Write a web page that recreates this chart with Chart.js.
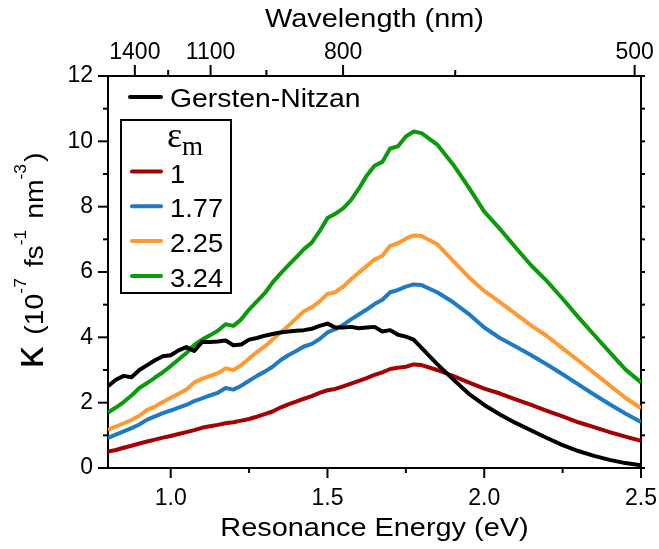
<!DOCTYPE html>
<html>
<head>
<meta charset="utf-8">
<script src="https://cdn.jsdelivr.net/npm/chart.js@4.4.1/dist/chart.umd.min.js"></script>
<style>
  html, body { margin: 0; padding: 0; background: #fff; }
  #wrap { width: 659px; height: 549px; }
</style>
</head>
<body>
<div id="wrap"><canvas id="kappa-chart" width="659" height="549"></canvas></div>
<script>
const HC = 1239.84; // eV * nm, for the wavelength axis

const energies = [0.80, 0.825, 0.85, 0.875, 0.90, 0.925, 0.95, 0.975, 1.00, 1.025,
  1.05, 1.075, 1.10, 1.125, 1.15, 1.175, 1.20, 1.225, 1.25, 1.275,
  1.30, 1.325, 1.35, 1.375, 1.40, 1.425, 1.45, 1.475, 1.50, 1.525,
  1.55, 1.575, 1.60, 1.625, 1.65, 1.675, 1.70, 1.725, 1.75, 1.775,
  1.80, 1.85, 1.90, 1.95, 2.00, 2.05, 2.10, 2.15, 2.20, 2.25,
  2.30, 2.35, 2.40, 2.45, 2.50];

const gerstenNitzan = [2.50, 2.70, 2.82, 2.78, 3.00, 3.15, 3.30, 3.42, 3.45, 3.60,
  3.70, 3.58, 3.86, 3.86, 3.87, 3.90, 3.76, 3.78, 3.93, 3.98,
  4.05, 4.10, 4.15, 4.18, 4.20, 4.22, 4.26, 4.35, 4.42, 4.30,
  4.30, 4.32, 4.28, 4.30, 4.32, 4.18, 4.22, 4.08, 4.02, 3.93,
  3.68, 3.18, 2.72, 2.28, 1.93, 1.64, 1.38, 1.15, 0.92, 0.70,
  0.52, 0.37, 0.25, 0.15, 0.08];

const eps100 = [0.50, 0.55, 0.62, 0.68, 0.75, 0.81, 0.87, 0.93, 0.98, 1.04,
  1.10, 1.16, 1.23, 1.28, 1.32, 1.37, 1.40, 1.45, 1.50, 1.57,
  1.65, 1.73, 1.85, 1.95, 2.03, 2.12, 2.20, 2.30, 2.38, 2.42,
  2.50, 2.58, 2.67, 2.75, 2.85, 2.93, 3.03, 3.07, 3.10, 3.17,
  3.15, 3.00, 2.82, 2.62, 2.43, 2.28, 2.10, 1.93, 1.75, 1.58,
  1.40, 1.25, 1.10, 0.96, 0.83];

const eps177 = [0.92, 1.02, 1.12, 1.22, 1.33, 1.48, 1.58, 1.68, 1.76, 1.85,
  1.93, 2.05, 2.13, 2.22, 2.30, 2.45, 2.40, 2.52, 2.67, 2.82,
  2.95, 3.10, 3.30, 3.45, 3.58, 3.72, 3.80, 3.95, 4.15, 4.25,
  4.38, 4.55, 4.70, 4.85, 5.02, 5.15, 5.38, 5.45, 5.55, 5.62,
  5.60, 5.38, 5.08, 4.72, 4.30, 3.98, 3.72, 3.45, 3.17, 2.87,
  2.56, 2.25, 1.95, 1.67, 1.41];

const eps225 = [1.17, 1.27, 1.37, 1.47, 1.60, 1.78, 1.88, 2.02, 2.15, 2.27,
  2.40, 2.62, 2.73, 2.82, 2.90, 3.05, 3.00, 3.15, 3.35, 3.55,
  3.72, 3.93, 4.15, 4.35, 4.58, 4.80, 4.92, 5.10, 5.33, 5.38,
  5.55, 5.78, 5.98, 6.18, 6.38, 6.50, 6.80, 6.88, 7.02, 7.12,
  7.10, 6.85, 6.35, 5.85, 5.42, 5.08, 4.72, 4.36, 4.04, 3.66,
  3.29, 2.91, 2.53, 2.15, 1.83];

const eps324 = [1.70, 1.85, 2.02, 2.22, 2.45, 2.60, 2.77, 2.93, 3.12, 3.32,
  3.52, 3.77, 3.93, 4.06, 4.20, 4.40, 4.35, 4.55, 4.85, 5.10,
  5.35, 5.68, 5.95, 6.20, 6.45, 6.70, 6.90, 7.25, 7.65, 7.78,
  7.95, 8.20, 8.55, 8.95, 9.25, 9.37, 9.78, 9.85, 10.15, 10.30,
  10.25, 9.90, 9.30, 8.60, 7.85, 7.32, 6.75, 6.20, 5.72, 5.18,
  4.62, 4.08, 3.55, 3.02, 2.62];

const mediumLabels = ['1', '1.77', '2.25', '3.24'];
const mediumColors = ['#a30000', '#1e7bc3', '#ff9a33', '#0a9a0a'];

const energyTicks = [1.0, 1.5, 2.0, 2.5];
const energyMinor = [1.25, 1.75, 2.25];
const wavelengthTicks = [1400, 1100, 800, 500];
const wavelengthMinor = [1250, 950, 650];
const kappaTicks = [0, 2, 4, 6, 8, 10, 12];
const kappaMinor = [1, 3, 5, 7, 9, 11];

const SANS = '"Liberation Sans", Arial, sans-serif';
const SERIF = '"Liberation Serif", "Times New Roman", serif';
const SX = 1.09; // the lettering is a little wide

const pts = ys => energies.map((e, i) => ({ x: e, y: ys[i] }));

function textW(ctx, str, font, sx = SX) {
  ctx.font = font;
  return ctx.measureText(str).width * sx;
}

function drawText(ctx, str, x, y, font, align = 'left', sx = SX) {
  ctx.save();
  ctx.font = font;
  ctx.textAlign = align;
  ctx.textBaseline = 'alphabetic';
  ctx.fillStyle = '#000';
  ctx.translate(x, y);
  ctx.scale(sx, 1);
  ctx.fillText(str, 0, 0);
  ctx.restore();
}

// fixed axis sizes so the plot box lands where it should
const fixSize = (w, h) => s => {
  if (w != null) s.width = w;
  if (h != null) s.height = h;
  s.paddingLeft = s.paddingRight = s.paddingTop = s.paddingBottom = 0;
};

// tick marks, axis titles and the two-part legend
const decorations = {
  id: 'decorations',
  afterDraw(chart) {
    const { ctx, chartArea: a, scales } = chart;
    ctx.save();
    ctx.strokeStyle = '#000';
    ctx.lineWidth = 2;
    const seg = (x1, y1, x2, y2) => {
      ctx.beginPath(); ctx.moveTo(x1, y1); ctx.lineTo(x2, y2); ctx.stroke();
    };

    energyTicks.forEach(e => { const x = scales.x.getPixelForValue(e); seg(x, a.bottom, x, a.bottom + 10); });
    energyMinor.forEach(e => { const x = scales.x.getPixelForValue(e); seg(x, a.bottom, x, a.bottom + 5); });
    wavelengthTicks.forEach(w => { const x = scales.x2.getPixelForValue(HC / w); seg(x, a.top, x, a.top - 11); });
    wavelengthMinor.forEach(w => { const x = scales.x2.getPixelForValue(HC / w); seg(x, a.top, x, a.top - 6); });
    kappaTicks.forEach(k => { const y = scales.y.getPixelForValue(k); seg(a.left, y, a.left - 10, y); });
    kappaMinor.forEach(k => { const y = scales.y.getPixelForValue(k); seg(a.left, y, a.left - 5, y); });
    kappaTicks.concat(kappaMinor).forEach(k => { const y = scales.y2.getPixelForValue(k); seg(a.right, y, a.right + 4, y); });

    // axis titles
    const cx = (a.left + a.right) / 2;
    drawText(ctx, 'Wavelength (nm)', cx, 27, `26.5px ${SANS}`, 'center');
    drawText(ctx, 'Resonance Energy (eV)', cx, 536, `26.5px ${SANS}`, 'center');

    // rotated y title with superscripts
    const parts = [
      { t: 'κ', f: `40px ${SANS}`, dy: 0, gap: 12 },
      { t: '(10', f: `26px ${SANS}`, dy: 0 },
      { t: '-7', f: `16px ${SANS}`, dy: -17, gap: 3 },
      { t: ' fs', f: `26px ${SANS}`, dy: 0 },
      { t: '-1', f: `16px ${SANS}`, dy: -17, gap: 3 },
      { t: ' nm', f: `26px ${SANS}`, dy: 0 },
      { t: '-3', f: `16px ${SANS}`, dy: -17, gap: 2 },
      { t: ')', f: `26px ${SANS}`, dy: 0 },
    ];
    const total = parts.reduce((s, p) => s + textW(ctx, p.t, p.f) + (p.gap || 0), 0);
    ctx.save();
    ctx.translate(43, 260.5);
    ctx.rotate(-Math.PI / 2);
    let u = -total / 2;
    parts.forEach(p => {
      drawText(ctx, p.t, u, p.dy, p.f);
      u += textW(ctx, p.t, p.f) + (p.gap || 0);
    });
    ctx.restore();

    // legend
    const ds = chart.data.datasets;
    ctx.lineCap = 'round';
    ctx.lineWidth = 4;
    ctx.strokeStyle = ds[0].borderColor;
    seg(130, 97, 161, 97);
    drawText(ctx, ds[0].label, 170, 106.5, `26px ${SANS}`);

    ctx.lineCap = 'butt';
    ctx.lineWidth = 2;
    ctx.strokeStyle = '#000';
    ctx.strokeRect(121, 120, 110, 173);
    drawText(ctx, 'ε', 167, 146.5, `36px ${SERIF}`, 'left', 1);
    drawText(ctx, 'm', 167 + textW(ctx, 'ε', `36px ${SERIF}`, 1), 155, `27px ${SERIF}`, 'left', 1);

    ctx.lineCap = 'round';
    ctx.lineWidth = 4;
    ds.slice(1).forEach((d, i) => {
      const y = 171.5 + i * 34.8;
      ctx.strokeStyle = d.borderColor;
      seg(132, y, 161, y);
      drawText(ctx, d.label, 170, y + 11, `25px ${SANS}`);
    });
    ctx.restore();
  }
};

const lineDs = (label, ys, color) => ({
  label,
  data: pts(ys),
  borderColor: color,
  borderWidth: 4,
  pointRadius: 0,
  tension: 0,
  borderJoinStyle: 'round',
  xAxisID: 'x',
  yAxisID: 'y',
});

const tickFont = { family: SANS, size: 23 };
const axisBorder = { display: true, color: '#000', width: 2 };
const noGrid = { display: false, drawTicks: false };

new Chart(document.getElementById('kappa-chart'), {
  type: 'line',
  data: {
    datasets: [
      lineDs('Gersten-Nitzan', gerstenNitzan, '#000000'),
      lineDs(mediumLabels[0], eps100, mediumColors[0]),
      lineDs(mediumLabels[1], eps177, mediumColors[1]),
      lineDs(mediumLabels[2], eps225, mediumColors[2]),
      lineDs(mediumLabels[3], eps324, mediumColors[3]),
    ],
  },
  options: {
    responsive: false,
    animation: false,
    layout: { padding: 0 },
    plugins: { legend: { display: false }, tooltip: { enabled: false } },
    scales: {
      x: {
        type: 'linear', position: 'bottom', min: 0.8, max: 2.5,
        afterBuildTicks: s => { s.ticks = energyTicks.map(v => ({ value: v })); },
        afterFit: fixSize(null, 81),
        grid: noGrid, border: axisBorder,
        ticks: { color: '#000', font: tickFont, padding: 17, maxRotation: 0, autoSkip: false, callback: v => v.toFixed(1) },
      },
      x2: {
        type: 'linear', position: 'top', min: 0.8, max: 2.5,
        afterBuildTicks: s => { s.ticks = wavelengthTicks.map(w => ({ value: HC / w })); },
        afterFit: fixSize(null, 76),
        grid: noGrid, border: axisBorder,
        ticks: { color: '#000', font: tickFont, padding: 10, maxRotation: 0, autoSkip: false, callback: v => String(Math.round(HC / v)) },
      },
      y: {
        type: 'linear', position: 'left', min: 0, max: 12,
        afterBuildTicks: s => { s.ticks = kappaTicks.map(v => ({ value: v })); },
        afterFit: fixSize(108, null),
        grid: noGrid, border: axisBorder,
        ticks: { color: '#000', font: tickFont, padding: 15, autoSkip: false, callback: v => String(v) },
      },
      y2: {
        type: 'linear', position: 'right', min: 0, max: 12,
        afterFit: fixSize(18, null),
        grid: noGrid, border: axisBorder,
        ticks: { display: false },
      },
    },
  },
  plugins: [decorations],
});
</script>
</body>
</html>
